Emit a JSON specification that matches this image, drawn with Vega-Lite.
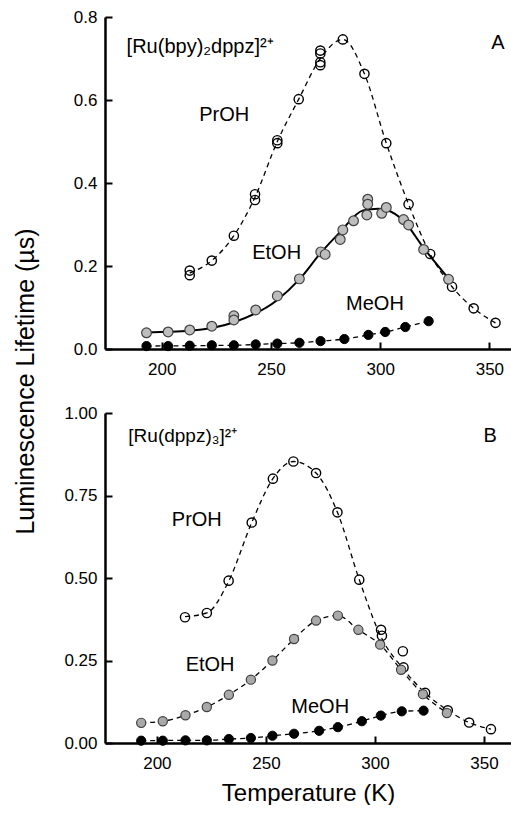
{
  "$schema": "https://vega.github.io/schema/vega-lite/v6.json",
  "padding": {"left": 13, "top": 8, "right": 0, "bottom": 0},
  "spacing": 64,
  "bounds": "flush",
  "config": {
    "view": {"stroke": null},
    "font": "Liberation Sans",
    "axis": {"grid": false, "domainColor": "black", "domainWidth": 2.5, "tickColor": "black", "tickWidth": 2, "tickSize": -7, "labelColor": "black", "labelFontSize": 17, "labelFont": "Liberation Sans", "titleFont": "Liberation Sans", "titleColor": "black", "titleFontWeight": "normal", "titleFontSize": 24},
    "axisX": {"labelPadding": 19},
    "axisY": {"labelPadding": 15}
  },
  "datasets": {
    "pts": [
      {"p":"A","s":"PrOH","T":212.8,"v":0.189},{"p":"A","s":"PrOH","T":212.8,"v":0.178},{"p":"A","s":"PrOH","T":222.9,"v":0.213},{"p":"A","s":"PrOH","T":233,"v":0.273},{"p":"A","s":"PrOH","T":242.7,"v":0.373},{"p":"A","s":"PrOH","T":242.7,"v":0.359},{"p":"A","s":"PrOH","T":252.9,"v":0.503},{"p":"A","s":"PrOH","T":252.9,"v":0.496},{"p":"A","s":"PrOH","T":262.7,"v":0.602},{"p":"A","s":"PrOH","T":272.6,"v":0.719},{"p":"A","s":"PrOH","T":272.6,"v":0.712},{"p":"A","s":"PrOH","T":272.6,"v":0.691},{"p":"A","s":"PrOH","T":272.6,"v":0.684},{"p":"A","s":"PrOH","T":282.9,"v":0.746},{"p":"A","s":"PrOH","T":292.8,"v":0.663},{"p":"A","s":"PrOH","T":302.8,"v":0.496},{"p":"A","s":"PrOH","T":313,"v":0.349},{"p":"A","s":"PrOH","T":322.9,"v":0.229},{"p":"A","s":"PrOH","T":332.9,"v":0.15},{"p":"A","s":"PrOH","T":342.8,"v":0.098},{"p":"A","s":"PrOH","T":352.8,"v":0.063},
      {"p":"A","s":"EtOH","T":193,"v":0.039},{"p":"A","s":"EtOH","T":202.9,"v":0.041},{"p":"A","s":"EtOH","T":212.8,"v":0.046},{"p":"A","s":"EtOH","T":222.9,"v":0.055},{"p":"A","s":"EtOH","T":233,"v":0.08},{"p":"A","s":"EtOH","T":233,"v":0.07},{"p":"A","s":"EtOH","T":243,"v":0.094},{"p":"A","s":"EtOH","T":252.9,"v":0.128},{"p":"A","s":"EtOH","T":263,"v":0.169},{"p":"A","s":"EtOH","T":272.8,"v":0.234},{"p":"A","s":"EtOH","T":274.8,"v":0.228},{"p":"A","s":"EtOH","T":281.7,"v":0.264},{"p":"A","s":"EtOH","T":282.9,"v":0.287},{"p":"A","s":"EtOH","T":287.8,"v":0.309},{"p":"A","s":"EtOH","T":293.9,"v":0.323},{"p":"A","s":"EtOH","T":294.3,"v":0.361},{"p":"A","s":"EtOH","T":294.3,"v":0.349},{"p":"A","s":"EtOH","T":300.7,"v":0.327},{"p":"A","s":"EtOH","T":302.8,"v":0.341},{"p":"A","s":"EtOH","T":310.7,"v":0.312},{"p":"A","s":"EtOH","T":313,"v":0.299},{"p":"A","s":"EtOH","T":319.9,"v":0.24},{"p":"A","s":"EtOH","T":331.3,"v":0.168},
      {"p":"A","s":"MeOH","T":193,"v":0.007},{"p":"A","s":"MeOH","T":202.9,"v":0.007},{"p":"A","s":"MeOH","T":212.8,"v":0.008},{"p":"A","s":"MeOH","T":222.9,"v":0.009},{"p":"A","s":"MeOH","T":233,"v":0.009},{"p":"A","s":"MeOH","T":243,"v":0.011},{"p":"A","s":"MeOH","T":252.9,"v":0.013},{"p":"A","s":"MeOH","T":263,"v":0.015},{"p":"A","s":"MeOH","T":272.7,"v":0.019},{"p":"A","s":"MeOH","T":283.6,"v":0.024},{"p":"A","s":"MeOH","T":294.6,"v":0.034},{"p":"A","s":"MeOH","T":302.3,"v":0.041},{"p":"A","s":"MeOH","T":311.5,"v":0.053},{"p":"A","s":"MeOH","T":322.2,"v":0.067},
      {"p":"B","s":"PrOH","T":212.9,"v":0.381},{"p":"B","s":"PrOH","T":222.9,"v":0.394},{"p":"B","s":"PrOH","T":232.9,"v":0.492},{"p":"B","s":"PrOH","T":243.5,"v":0.668},{"p":"B","s":"PrOH","T":253.2,"v":0.801},{"p":"B","s":"PrOH","T":262.6,"v":0.853},{"p":"B","s":"PrOH","T":273,"v":0.818},{"p":"B","s":"PrOH","T":282.8,"v":0.699},{"p":"B","s":"PrOH","T":292.8,"v":0.495},{"p":"B","s":"PrOH","T":302.8,"v":0.343},{"p":"B","s":"PrOH","T":303.2,"v":0.325},{"p":"B","s":"PrOH","T":312.8,"v":0.278},{"p":"B","s":"PrOH","T":313.1,"v":0.229},{"p":"B","s":"PrOH","T":323,"v":0.152},{"p":"B","s":"PrOH","T":333.4,"v":0.099},{"p":"B","s":"PrOH","T":343.2,"v":0.062},{"p":"B","s":"PrOH","T":353.2,"v":0.042},
      {"p":"B","s":"EtOH","T":192.8,"v":0.061},{"p":"B","s":"EtOH","T":202.7,"v":0.066},{"p":"B","s":"EtOH","T":213.1,"v":0.084},{"p":"B","s":"EtOH","T":222.9,"v":0.109},{"p":"B","s":"EtOH","T":233,"v":0.146},{"p":"B","s":"EtOH","T":243.1,"v":0.192},{"p":"B","s":"EtOH","T":253,"v":0.25},{"p":"B","s":"EtOH","T":262.9,"v":0.315},{"p":"B","s":"EtOH","T":273,"v":0.371},{"p":"B","s":"EtOH","T":283,"v":0.386},{"p":"B","s":"EtOH","T":292.4,"v":0.343},{"p":"B","s":"EtOH","T":302.4,"v":0.298},{"p":"B","s":"EtOH","T":312,"v":0.222},{"p":"B","s":"EtOH","T":322,"v":0.148},{"p":"B","s":"EtOH","T":333,"v":0.091},
      {"p":"B","s":"MeOH","T":192.8,"v":0.007},{"p":"B","s":"MeOH","T":202.7,"v":0.007},{"p":"B","s":"MeOH","T":213.1,"v":0.008},{"p":"B","s":"MeOH","T":222.9,"v":0.008},{"p":"B","s":"MeOH","T":233,"v":0.012},{"p":"B","s":"MeOH","T":243.1,"v":0.015},{"p":"B","s":"MeOH","T":253,"v":0.022},{"p":"B","s":"MeOH","T":262.9,"v":0.028},{"p":"B","s":"MeOH","T":274.4,"v":0.037},{"p":"B","s":"MeOH","T":283,"v":0.048},{"p":"B","s":"MeOH","T":294,"v":0.066},{"p":"B","s":"MeOH","T":302.7,"v":0.083},{"p":"B","s":"MeOH","T":312.3,"v":0.096},{"p":"B","s":"MeOH","T":322.3,"v":0.098}
    ],
    "fit": [
      {"p":"A","s":"PrOH","T":212.8,"v":0.183},{"p":"A","s":"PrOH","T":222.9,"v":0.213},{"p":"A","s":"PrOH","T":233,"v":0.273},{"p":"A","s":"PrOH","T":242.7,"v":0.366},{"p":"A","s":"PrOH","T":252.9,"v":0.5},{"p":"A","s":"PrOH","T":262.7,"v":0.602},{"p":"A","s":"PrOH","T":272.6,"v":0.7},{"p":"A","s":"PrOH","T":282.9,"v":0.746},{"p":"A","s":"PrOH","T":292.8,"v":0.663},{"p":"A","s":"PrOH","T":302.8,"v":0.496},{"p":"A","s":"PrOH","T":313,"v":0.349},{"p":"A","s":"PrOH","T":322.9,"v":0.229},{"p":"A","s":"PrOH","T":332.9,"v":0.15},{"p":"A","s":"PrOH","T":342.8,"v":0.098},{"p":"A","s":"PrOH","T":352.8,"v":0.063},
      {"p":"A","s":"EtOH","T":193,"v":0.04},{"p":"A","s":"EtOH","T":212.8,"v":0.044},{"p":"A","s":"EtOH","T":232.7,"v":0.064},{"p":"A","s":"EtOH","T":252.6,"v":0.117},{"p":"A","s":"EtOH","T":263.2,"v":0.169},{"p":"A","s":"EtOH","T":272.4,"v":0.229},{"p":"A","s":"EtOH","T":281.5,"v":0.281},{"p":"A","s":"EtOH","T":292.2,"v":0.334},{"p":"A","s":"EtOH","T":299.1,"v":0.338},{"p":"A","s":"EtOH","T":302.9,"v":0.335},{"p":"A","s":"EtOH","T":310.5,"v":0.31},{"p":"A","s":"EtOH","T":319.7,"v":0.245},{"p":"A","s":"EtOH","T":331.1,"v":0.171},
      {"p":"A","s":"MeOH","T":193,"v":0.007},{"p":"A","s":"MeOH","T":212.8,"v":0.008},{"p":"A","s":"MeOH","T":233,"v":0.009},{"p":"A","s":"MeOH","T":252.9,"v":0.013},{"p":"A","s":"MeOH","T":263,"v":0.015},{"p":"A","s":"MeOH","T":272.7,"v":0.019},{"p":"A","s":"MeOH","T":283.6,"v":0.024},{"p":"A","s":"MeOH","T":294.6,"v":0.034},{"p":"A","s":"MeOH","T":302.3,"v":0.041},{"p":"A","s":"MeOH","T":311.5,"v":0.053},{"p":"A","s":"MeOH","T":322.2,"v":0.067},
      {"p":"B","s":"PrOH","T":212.9,"v":0.383},{"p":"B","s":"PrOH","T":222.9,"v":0.394},{"p":"B","s":"PrOH","T":232.9,"v":0.49},{"p":"B","s":"PrOH","T":243.5,"v":0.668},{"p":"B","s":"PrOH","T":253.2,"v":0.801},{"p":"B","s":"PrOH","T":262.6,"v":0.853},{"p":"B","s":"PrOH","T":273,"v":0.818},{"p":"B","s":"PrOH","T":282.8,"v":0.699},{"p":"B","s":"PrOH","T":292.8,"v":0.495},{"p":"B","s":"PrOH","T":302.9,"v":0.32},{"p":"B","s":"PrOH","T":312.9,"v":0.225},{"p":"B","s":"PrOH","T":323,"v":0.152},{"p":"B","s":"PrOH","T":333.4,"v":0.099},{"p":"B","s":"PrOH","T":343.2,"v":0.062},{"p":"B","s":"PrOH","T":353.2,"v":0.042},
      {"p":"B","s":"EtOH","T":192.8,"v":0.061},{"p":"B","s":"EtOH","T":202.7,"v":0.066},{"p":"B","s":"EtOH","T":213.1,"v":0.084},{"p":"B","s":"EtOH","T":222.9,"v":0.109},{"p":"B","s":"EtOH","T":233,"v":0.146},{"p":"B","s":"EtOH","T":243.1,"v":0.192},{"p":"B","s":"EtOH","T":253,"v":0.25},{"p":"B","s":"EtOH","T":262.9,"v":0.315},{"p":"B","s":"EtOH","T":273,"v":0.371},{"p":"B","s":"EtOH","T":283,"v":0.386},{"p":"B","s":"EtOH","T":292.4,"v":0.343},{"p":"B","s":"EtOH","T":302.4,"v":0.298},{"p":"B","s":"EtOH","T":312,"v":0.222},{"p":"B","s":"EtOH","T":322,"v":0.148},{"p":"B","s":"EtOH","T":333,"v":0.091},
      {"p":"B","s":"MeOH","T":192.8,"v":0.007},{"p":"B","s":"MeOH","T":213.1,"v":0.008},{"p":"B","s":"MeOH","T":222.9,"v":0.008},{"p":"B","s":"MeOH","T":233,"v":0.012},{"p":"B","s":"MeOH","T":243.1,"v":0.015},{"p":"B","s":"MeOH","T":253,"v":0.022},{"p":"B","s":"MeOH","T":262.9,"v":0.028},{"p":"B","s":"MeOH","T":274.4,"v":0.037},{"p":"B","s":"MeOH","T":283,"v":0.048},{"p":"B","s":"MeOH","T":294,"v":0.066},{"p":"B","s":"MeOH","T":302.7,"v":0.083},{"p":"B","s":"MeOH","T":312.3,"v":0.096},{"p":"B","s":"MeOH","T":322.3,"v":0.098}
    ],
    "lab": [
      {"p":"A","T":183.9,"v":0.728,"t":"[Ru(bpy)₂dppz]²⁺","k":"c"},
      {"p":"A","T":353.9,"v":0.737,"t":"A","k":"m"},
      {"p":"A","T":228.6,"v":0.565,"t":"PrOH","k":"m"},
      {"p":"A","T":252.6,"v":0.231,"t":"EtOH","k":"m"},
      {"p":"A","T":297.6,"v":0.109,"t":"MeOH","k":"m"},
      {"p":"B","T":186.9,"v":0.929,"t":"[Ru(dppz)₃]²⁺","k":"c"},
      {"p":"B","T":352.8,"v":0.929,"t":"B","k":"m"},
      {"p":"B","T":218.3,"v":0.677,"t":"PrOH","k":"m"},
      {"p":"B","T":224.4,"v":0.237,"t":"EtOH","k":"m"},
      {"p":"B","T":274.9,"v":0.11,"t":"MeOH","k":"m"}
    ]
  },
  "vconcat": [
    {
      "width": 406,
      "height": 332,
      "encoding": {
        "x": {"field": "T", "type": "quantitative", "scale": {"domain": [174, 359.9], "nice": false, "zero": false}, "axis": {"values": [200, 250, 300, 350], "title": null}},
        "y": {"field": "v", "type": "quantitative", "scale": {"domain": [0, 0.8], "nice": false}, "axis": {"values": [0, 0.2, 0.4, 0.6, 0.8], "format": ".1f", "title": "Luminescence Lifetime (µs)", "titleFontSize": 25, "titleX": -72, "titleY": 364, "titleAngle": 270, "titleBaseline": "alphabetic", "titleAlign": "center"}}
      },
      "layer": [
        {"mark": {"type": "rule", "color": "black", "strokeWidth": 2.5}, "encoding": {"x": null, "y": {"datum": 0.8, "type": "quantitative"}}},
        {"data": {"name": "fit"}, "transform": [{"filter": "datum.p === 'A' && datum.s !== 'EtOH'"}], "mark": {"type": "line", "interpolate": "monotone", "color": "black", "strokeWidth": 1.3, "strokeDash": [5, 4]}, "encoding": {"detail": {"field": "s"}}},
        {"data": {"name": "fit"}, "transform": [{"filter": "datum.p === 'A' && datum.s === 'EtOH'"}], "mark": {"type": "line", "interpolate": "monotone", "color": "black", "strokeWidth": 2}, "encoding": {}},
        {"data": {"name": "pts"}, "transform": [{"filter": "datum.p === 'A' && datum.s === 'PrOH'"}], "mark": {"type": "point", "shape": "circle", "filled": false, "stroke": "black", "strokeWidth": 1.4, "size": 85, "opacity": 1}, "encoding": {}},
        {"data": {"name": "pts"}, "transform": [{"filter": "datum.p === 'A' && datum.s === 'EtOH'"}], "mark": {"type": "point", "shape": "circle", "filled": true, "fill": "#bdbdbd", "stroke": "#404040", "strokeWidth": 1.2, "size": 95, "opacity": 1}, "encoding": {}},
        {"data": {"name": "pts"}, "transform": [{"filter": "datum.p === 'A' && datum.s === 'MeOH'"}], "mark": {"type": "point", "shape": "circle", "filled": true, "fill": "black", "stroke": "black", "strokeWidth": 1, "size": 85, "opacity": 1}, "encoding": {}},
        {"data": {"name": "lab"}, "transform": [{"filter": "datum.p === 'A' && datum.k === 'm'"}], "mark": {"type": "text", "fontSize": 20, "color": "black", "align": "center", "baseline": "middle", "font": "Liberation Sans"}, "encoding": {"text": {"field": "t"}}},
        {"data": {"name": "lab"}, "transform": [{"filter": "datum.p === 'A' && datum.k === 'c'"}], "mark": {"type": "text", "fontSize": 20, "color": "black", "align": "left", "baseline": "middle", "font": "Liberation Sans"}, "encoding": {"text": {"field": "t"}}}
      ]
    },
    {
      "width": 406,
      "height": 330,
      "encoding": {
        "x": {"field": "T", "type": "quantitative", "scale": {"domain": [176.2, 362.4], "nice": false, "zero": false}, "axis": {"values": [200, 250, 300, 350], "title": "Temperature (K)", "titlePadding": 10}},
        "y": {"field": "v", "type": "quantitative", "scale": {"domain": [0, 1], "nice": false}, "axis": {"values": [0, 0.25, 0.5, 0.75, 1], "format": ".2f", "title": null}}
      },
      "layer": [
        {"mark": {"type": "rule", "color": "black", "strokeWidth": 2.5}, "encoding": {"x": null, "y": {"datum": 1, "type": "quantitative"}}},
        {"data": {"name": "fit"}, "transform": [{"filter": "datum.p === 'B'"}], "mark": {"type": "line", "interpolate": "monotone", "color": "black", "strokeWidth": 1.3, "strokeDash": [5, 4]}, "encoding": {"detail": {"field": "s"}}},
        {"data": {"name": "pts"}, "transform": [{"filter": "datum.p === 'B' && datum.s === 'PrOH'"}], "mark": {"type": "point", "shape": "circle", "filled": false, "stroke": "black", "strokeWidth": 1.4, "size": 85, "opacity": 1}, "encoding": {}},
        {"data": {"name": "pts"}, "transform": [{"filter": "datum.p === 'B' && datum.s === 'EtOH'"}], "mark": {"type": "point", "shape": "circle", "filled": true, "fill": "#a9a9a9", "stroke": "#404040", "strokeWidth": 1.2, "size": 85, "opacity": 1}, "encoding": {}},
        {"data": {"name": "pts"}, "transform": [{"filter": "datum.p === 'B' && datum.s === 'MeOH'"}], "mark": {"type": "point", "shape": "circle", "filled": true, "fill": "black", "stroke": "black", "strokeWidth": 1, "size": 85, "opacity": 1}, "encoding": {}},
        {"data": {"name": "lab"}, "transform": [{"filter": "datum.p === 'B' && datum.k === 'm'"}], "mark": {"type": "text", "fontSize": 20, "color": "black", "align": "center", "baseline": "middle", "font": "Liberation Sans"}, "encoding": {"text": {"field": "t"}}},
        {"data": {"name": "lab"}, "transform": [{"filter": "datum.p === 'B' && datum.k === 'c'"}], "mark": {"type": "text", "fontSize": 19, "color": "black", "align": "left", "baseline": "middle", "font": "Liberation Sans"}, "encoding": {"text": {"field": "t"}}}
      ]
    }
  ]
}
